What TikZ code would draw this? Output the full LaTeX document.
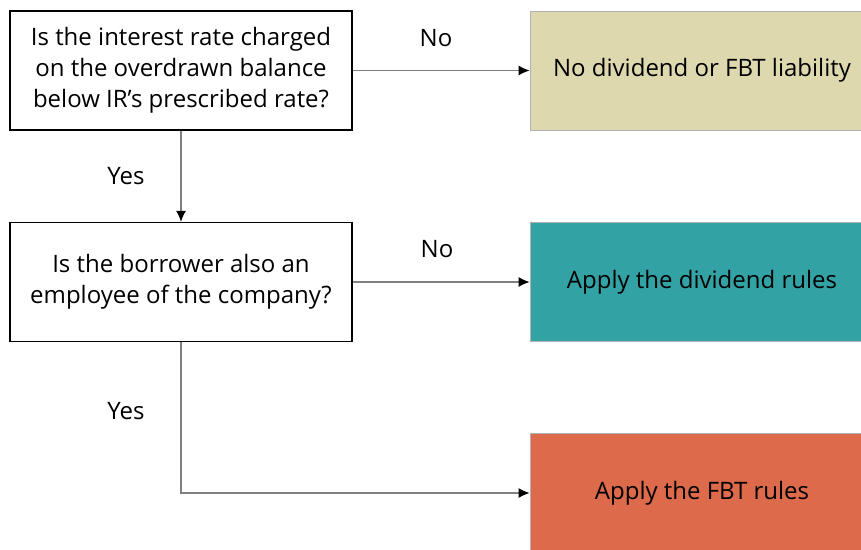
\documentclass[tikz,border=0pt]{standalone}
\usepackage{fontspec}
\setmainfont{Open Sans}
\usetikzlibrary{arrows.meta}
\definecolor{beige}{HTML}{DED8AE}
\definecolor{tealc}{HTML}{33A2A5}
\definecolor{orangec}{HTML}{DC6A4B}
\definecolor{linegray}{HTML}{808080}
\begin{document}
\begin{tikzpicture}[x=1pt,y=-1pt,
  qbox/.style={draw=black,line width=1.4pt,fill=white,minimum width=342pt,minimum height=119pt,align=center,font=\fontsize{24}{31}\selectfont,inner sep=0pt},
  rbox/.style={draw=black!30,line width=0.8pt,minimum width=344pt,minimum height=119pt,align=center,font=\fontsize{24}{31}\selectfont,inner sep=0pt},
  conn/.style={draw=linegray,line width=1.2pt,-{Latex[length=11pt,width=10pt,black]}},
  lbl/.style={font=\fontsize{24}{28}\selectfont,inner sep=0pt}]
\useasboundingbox (0,0) rectangle (861,549);
\node[qbox] (q1) at (181,70.5) {Is the interest rate charged\\on the overdrawn balance\\below IR’s prescribed rate?};
\node[qbox] (q2) at (181,282) {Is the borrower also an\\employee of the company?};
\node[rbox,fill=beige] (r1) at (702,70.5) {No dividend or FBT liability};
\node[rbox,fill=tealc] (r2) at (702,282) {Apply the dividend rules};
\node[rbox,fill=orangec] (r3) at (702,493) {Apply the FBT rules};
\draw[conn] (q1.east) -- (r1.west);
\draw[conn] (q2.east) -- (r2.west);
\draw[conn] (q1.south) -- (q2.north);
\draw[conn] (q2.south) |- (r3.west);
\node[lbl] (n1) at (436,38) {No};
\node[lbl] (n2) at (437,249) {No};
\node[lbl] (y1) at (126,176) {Yes};
\node[lbl] (y2) at (126,411) {Yes};
\end{tikzpicture}
\end{document}
